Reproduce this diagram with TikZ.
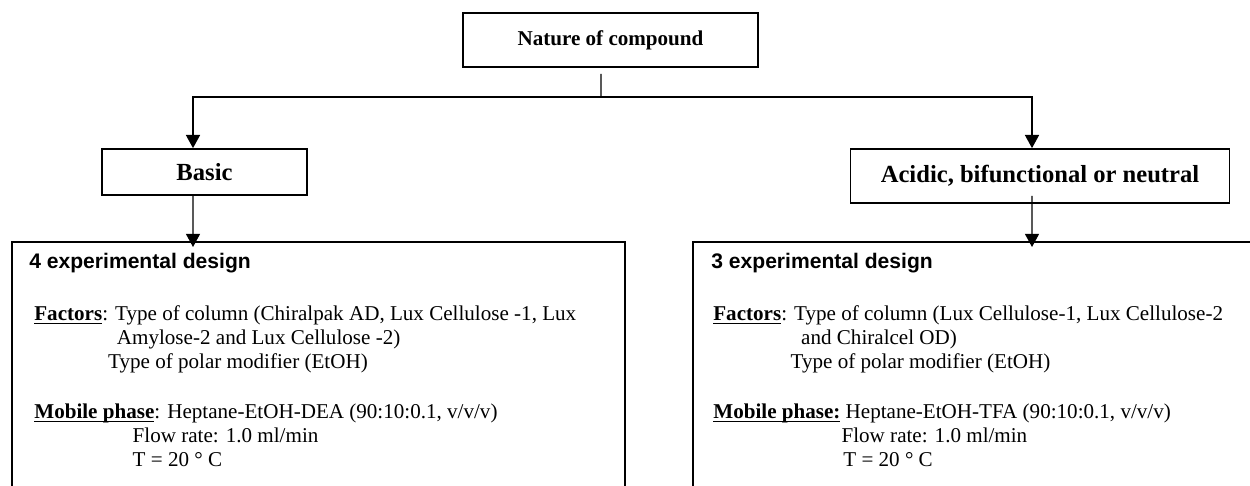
\documentclass[tikz,border=0pt]{standalone}
\usepackage{fontspec}
\setmainfont{Liberation Serif}
\newfontfamily\headfont{Liberation Sans}
\usetikzlibrary{arrows.meta,positioning}
\newcommand\undl[1]{\setbox0\hbox{#1}\rlap{\rule[-1.6pt]{\wd0}{0.7pt}}\box0\relax}

\begin{document}
\begin{tikzpicture}[x=0.02cm,y=-0.02cm,
		box/.style={draw, line width=1pt, rectangle, inner sep=0pt},
		link/.style={line width=0.8pt},
		arr/.style={line width=0.8pt, -{Triangle[width=8pt,length=7.5pt]}},
		big/.style={font=\fontsize{14}{16}\selectfont\bfseries},
		head/.style={anchor=base west, inner sep=0pt, font=\fontsize{12}{14}\selectfont\headfont\bfseries},
		txt/.style={anchor=base west, align=left, inner sep=0pt, font=\fontsize{12}{13.4}\selectfont}]
		\useasboundingbox (0,0) rectangle (1250,485);
		\clip (0,0) rectangle (1250,485);
		\draw (610.5,40) node [box, minimum width=5.9cm, minimum height=1.08cm, font=\fontsize{12}{14}\selectfont\bfseries] (nature) {Nature of compound};
		\draw (204.5,172) node [box, big, minimum width=4.1cm, minimum height=0.92cm] (basic) {Basic};
		\draw (1040,176) node [box, big, minimum width=7.58cm, minimum height=1.08cm] (acid) {Acidic, bifunctional or neutral};
		\draw (11,241) node [box, anchor=north west, minimum width=12.26cm, minimum height=6cm] (left) {};
		\draw (692,241) node [box, anchor=north west, minimum width=12cm, minimum height=6cm] (right) {};
		\coordinate (split) at (601,97);
		\coordinate (ltip) at (193,247);
		\coordinate (rtip) at (1032,247);
		\draw [link] ([xshift=-0.19cm,yshift=-0.12cm]nature.south) -- (split);
		\draw [arr] (split) -| ([xshift=-0.23cm]basic.north);
		\draw [arr] (split) -| ([xshift=-0.16cm]acid.north);
		\draw [arr] ([xshift=-0.23cm]basic.south) -- (ltip);
		\draw [arr] ([xshift=-0.16cm,yshift=0.16cm]acid.south) -- (rtip);
		% left design (base = last line)
		\draw (29,268) node [head] (lhead) {4 experimental design};
		\draw (34,368) node [txt] (lfact) {\undl{\textbf{Factors}}: Type of column (Chiralpak AD, Lux Cellulose -1, Lux\\
			\hspace*{47pt}Amylose-2 and Lux Cellulose -2)\\
			\hspace*{42pt}Type of polar modifier (EtOH)};
		\draw (34,466) node [txt] (lmob) {\undl{\textbf{Mobile phase}}: Heptane-EtOH-DEA (90:10:0.1, v/v/v)\\
			\hspace*{56pt}Flow rate: 1.0 ml/min\\
			\hspace*{56pt}T = 20 ° C};
		% right design
		\draw (711,268) node [head] (rhead) {3 experimental design};
		\draw (713,368) node [txt] (rfact) {\undl{\textbf{Factors}}: Type of column (Lux Cellulose-1, Lux Cellulose-2\\
			\hspace*{50pt}and Chiralcel OD)\\
			\hspace*{44pt}Type of polar modifier (EtOH)};
		\draw (713,466) node [txt] (rmob) {\undl{\textbf{Mobile phase:}} Heptane-EtOH-TFA (90:10:0.1, v/v/v)\\
			\hspace*{73pt}Flow rate: 1.0 ml/min\\
			\hspace*{74pt}T = 20 ° C};
	\end{tikzpicture}
\end{document}
